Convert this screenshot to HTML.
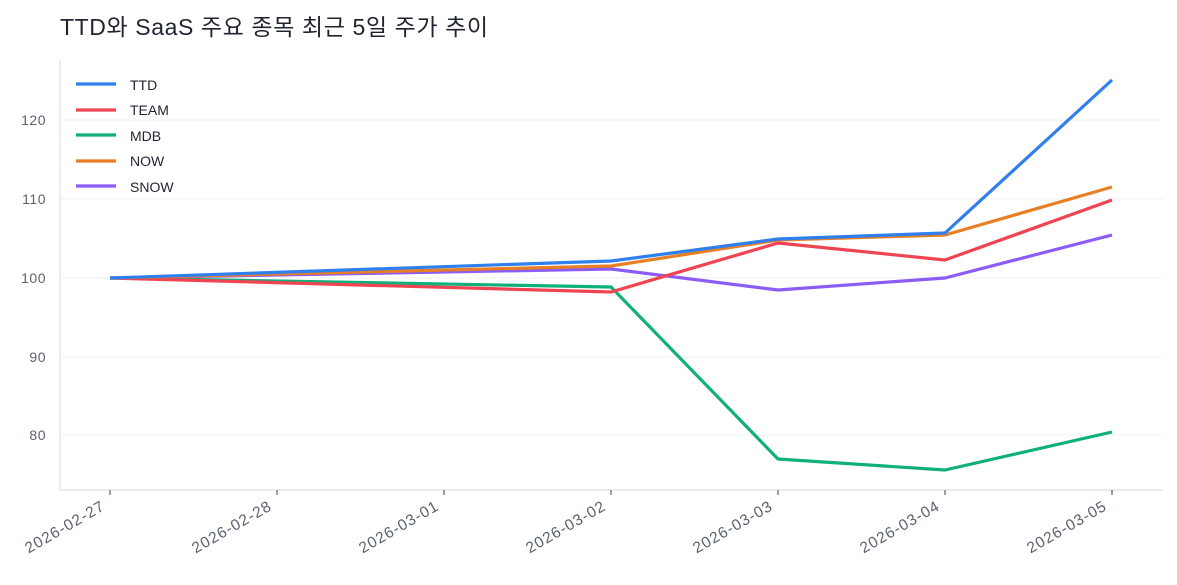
<!DOCTYPE html>
<html><head><meta charset="utf-8"><style>
body{margin:0;background:#fff;}
svg{display:block;font-family:"Liberation Sans","Noto Sans CJK KR",sans-serif;}
</style></head><body>
<svg width="1177" height="585" viewBox="0 0 1177 585">
<text x="60" y="35" font-size="23" fill="#1f2430" letter-spacing="0.6">TTD와 SaaS 주요 종목 최근 5일 주가 추이</text>
<g stroke="#f0f1f3" stroke-width="1">
<line x1="60" x2="1163" y1="120" y2="120"/><line x1="60" x2="1163" y1="199" y2="199"/>
<line x1="60" x2="1163" y1="278" y2="278"/><line x1="60" x2="1163" y1="357" y2="357"/>
<line x1="60" x2="1163" y1="435" y2="435"/>
</g>
<g stroke="#e3e5e8" stroke-width="1.5" fill="none">
<line x1="60" y1="60" x2="60" y2="490"/><line x1="60" y1="490" x2="1163" y2="490"/>
</g>
<g fill="#5a6270" font-size="14" text-anchor="end" letter-spacing="0.5">
<text x="46" y="125">120</text><text x="46" y="204">110</text><text x="46" y="283">100</text>
<text x="46" y="362">90</text><text x="46" y="440">80</text>
</g>
<g stroke="#5a6270" stroke-width="1.2">
<line x1="110" x2="110" y1="490" y2="495"/><line x1="277" x2="277" y1="490" y2="495"/>
<line x1="444" x2="444" y1="490" y2="495"/><line x1="611" x2="611" y1="490" y2="495"/>
<line x1="778" x2="778" y1="490" y2="495"/><line x1="945" x2="945" y1="490" y2="495"/>
<line x1="1112" x2="1112" y1="490" y2="495"/>
</g>
<g fill="#5a6270" font-size="15.5" text-anchor="end" letter-spacing="1">
<text transform="translate(106,509) rotate(-30)">2026-02-27</text>
<text transform="translate(273,509) rotate(-30)">2026-02-28</text>
<text transform="translate(440,509) rotate(-30)">2026-03-01</text>
<text transform="translate(607,509) rotate(-30)">2026-03-02</text>
<text transform="translate(774,509) rotate(-30)">2026-03-03</text>
<text transform="translate(941,509) rotate(-30)">2026-03-04</text>
<text transform="translate(1108,509) rotate(-30)">2026-03-05</text>
</g>
<g fill="none" stroke-width="3.2" stroke-linejoin="round">
<polyline stroke="#10b07a" points="110,278 611,287 778,459 945,470 1112,432"/>
<polyline stroke="#8b5cf6" points="110,278 611,269 778,290 945,278 1112,235"/>
<polyline stroke="#ef4452" points="110,278 611,292 778,243 945,260 1112,200"/>
<polyline stroke="#e87f24" points="110,278 611,266 778,240 945,235 1112,187"/>
<polyline stroke="#2f80ed" points="110,278 611,261 778,239 945,233 1112,80"/>
</g>
<g stroke-width="3.2">
<line x1="76" x2="116" y1="84" y2="84" stroke="#2f80ed"/>
<line x1="76" x2="116" y1="110" y2="110" stroke="#ef4452"/>
<line x1="76" x2="116" y1="135" y2="135" stroke="#10b07a"/>
<line x1="76" x2="116" y1="161" y2="161" stroke="#e87f24"/>
<line x1="76" x2="116" y1="186" y2="186" stroke="#8b5cf6"/>
</g>
<g font-size="14" fill="#1f2430">
<text x="130" y="90">TTD</text><text x="130" y="115">TEAM</text><text x="130" y="141">MDB</text>
<text x="130" y="166">NOW</text><text x="130" y="192">SNOW</text>
</g>
</svg>
</body></html>
